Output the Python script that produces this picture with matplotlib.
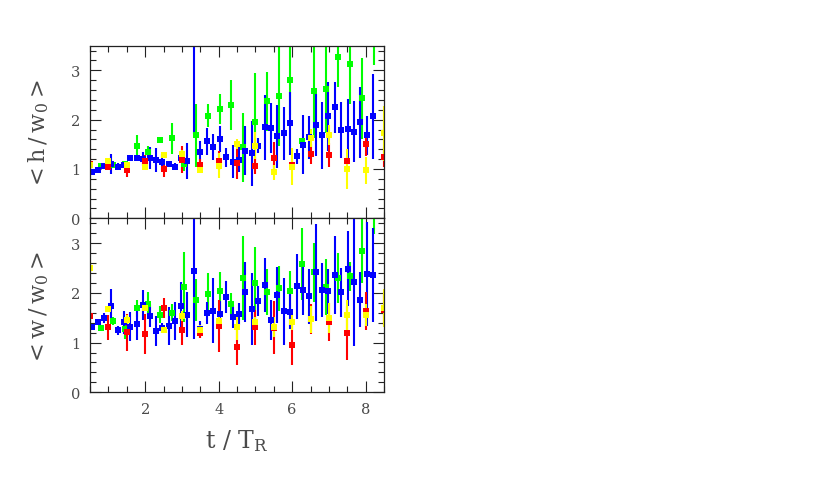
import matplotlib
matplotlib.use("Agg")
import matplotlib.pyplot as plt
from matplotlib.ticker import MultipleLocator

plt.rcParams['font.family'] = ['DejaVu Serif']
plt.rcParams['mathtext.fontset'] = 'dejavuserif'

# ---- data ----
x_blue = [0.55, 0.73, 0.89, 1.07, 1.25, 1.43, 1.59, 1.77, 1.94, 2.12,
          2.29, 2.47, 2.64, 2.82, 2.98, 3.15, 3.33, 3.50, 3.68, 3.86,
          4.03, 4.21, 4.38, 4.55, 4.73, 4.91, 5.08, 5.25, 5.43, 5.59,
          5.77, 5.94, 6.12, 6.29, 6.46, 6.64, 6.82, 6.98, 7.16, 7.34,
          7.51, 7.68, 7.86, 8.05, 8.21]
h_blue = [0.93, 0.98, 1.07, 1.10, 1.05, 1.08, 1.22, 1.23, 1.20, 1.22,
          1.18, 1.14, 1.10, 1.05, 1.22, 1.16, 3.80, 1.34, 1.56, 1.44,
          1.61, 1.24, 1.15, 1.19, 1.37, 1.32, 1.47, 1.85, 1.83, 1.66,
          1.72, 1.93, 1.26, 1.49, 1.64, 1.89, 1.68, 2.07, 2.25, 1.79,
          1.81, 1.76, 1.95, 1.68, 2.07]
h_blue_err = [0.05, 0.05, 0.05, 0.20, 0.07, 0.05, 0.04, 0.05, 0.14, 0.22,
              0.24, 0.17, 0.05, 0.07, 0.10, 0.37, 2.10, 0.22, 0.28, 0.26,
              0.27, 0.19, 0.34, 0.25, 0.50, 0.66, 0.15, 0.66, 0.50, 0.64,
              0.54, 0.64, 0.15, 0.60, 0.44, 0.63, 0.68, 0.70, 0.52, 0.57,
              0.60, 0.62, 0.72, 0.40, 0.86]
w_blue = [1.31, 1.41, 1.49, 1.74, 1.25, 1.41, 1.32, 1.37, 1.76, 1.54,
          1.24, 1.30, 1.33, 1.43, 1.74, 1.56, 2.45, 1.27, 1.60, 1.64,
          1.58, 1.92, 1.52, 1.58, 2.02, 1.68, 1.83, 2.16, 1.45, 1.96,
          1.63, 1.62, 2.13, 2.06, 1.93, 2.41, 2.06, 2.03, 2.36, 2.01,
          2.49, 2.21, 1.86, 2.38, 2.36]
w_blue_err = [0.05, 0.05, 0.10, 0.33, 0.09, 0.23, 0.29, 0.32, 0.30, 0.23,
              0.30, 0.10, 0.38, 0.38, 0.48, 0.45, 1.37, 0.17, 0.22, 0.65,
              0.25, 0.32, 0.23, 0.22, 0.60, 0.72, 0.30, 0.54, 0.40, 0.57,
              0.67, 0.35, 0.65, 0.50, 0.55, 0.97, 0.55, 0.45, 0.79, 0.49,
              0.75, 1.27, 0.55, 1.04, 0.94]

x_green = [0.80, 1.12, 1.45, 1.77, 2.09, 2.41, 2.73, 3.06, 3.38, 3.70,
           4.03, 4.35, 4.66, 4.99, 5.32, 5.64, 5.95, 6.27, 6.59, 6.92,
           7.24, 7.57, 7.91, 8.23]
h_green = [1.07, 1.09, 1.10, 1.46, 1.34, 1.59, 1.62, 1.10, 1.68, 2.08,
           2.22, 2.30, 1.44, 1.95, 2.37, 2.47, 2.81, 1.56, 2.59, 2.62,
           3.27, 3.12, 2.43, 3.90]
h_green_err = [0.04, 0.04, 0.04, 0.22, 0.12, 0.05, 0.32, 0.15, 0.64, 0.23,
               0.31, 0.50, 0.70, 1.00, 0.60, 1.00, 0.72, 0.05, 0.96, 0.90,
               0.60, 0.80, 0.82, 0.80]
w_green = [1.29, 1.43, 1.27, 1.69, 1.78, 1.56, 1.60, 2.12, 1.86, 1.98,
           2.04, 1.78, 2.30, 2.20, 2.02, 2.09, 2.03, 2.58, 2.41, 2.12,
           2.30, 2.33, 2.85, 3.80]
w_green_err = [0.05, 0.08, 0.20, 0.17, 0.23, 0.17, 0.17, 0.70, 0.42, 0.42,
               0.37, 0.22, 0.85, 0.72, 0.47, 0.45, 0.42, 0.72, 0.60, 0.57,
               0.50, 0.30, 0.65, 0.62]

x_ry = [0.5, 1.0, 1.5, 2.0, 2.5, 3.0, 3.5, 4.0, 4.5, 5.0, 5.5, 6.0, 6.5,
        7.0, 7.5, 8.0, 8.5]
h_red = [1.10, 1.05, 0.98, 1.17, 1.00, 1.19, 1.08, 1.17, 1.12, 1.07, 1.22,
         1.08, 1.30, 1.28, 1.16, 1.51, 1.24]
h_red_err = [0.13, 0.08, 0.15, 0.12, 0.17, 0.28, 0.12, 0.20, 0.32, 0.18, 0.32,
             0.10, 0.20, 0.24, 0.08, 0.25, 0.20]
h_yellow = [1.08, 1.17, 1.08, 1.05, 1.29, 1.30, 0.97, 1.07, 1.51, 1.47, 0.93,
            1.05, 1.63, 1.69, 1.00, 0.97, 1.72]
h_yellow_err = [0.05, 0.05, 0.05, 0.05, 0.05, 0.08, 0.05, 0.25, 0.10, 0.27, 0.15,
                0.37, 0.18, 0.20, 0.40, 0.28, 0.55]
w_red = [1.54, 1.31, 1.21, 1.17, 1.70, 1.26, 1.20, 1.34, 0.92, 1.31, 1.30,
         0.95, 1.47, 1.41, 1.19, 1.64, 1.65]
w_red_err = [0.17, 0.25, 0.37, 0.40, 0.20, 0.30, 0.10, 0.52, 0.38, 0.35, 0.53,
             0.40, 0.30, 0.38, 0.55, 0.38, 0.30]
w_yellow = [2.50, 1.68, 1.45, 1.70, 1.26, 1.54, 1.26, 1.44, 1.31, 1.41, 1.32,
            1.42, 1.47, 1.49, 1.56, 1.56, 1.69]
w_yellow_err = [0.12, 0.05, 0.10, 0.05, 0.05, 0.10, 0.10, 0.10, 0.25, 0.10, 0.20,
                0.17, 0.27, 0.30, 0.30, 0.22, 0.38]

x_ticks = [2, 4, 6, 8]
y_ticks = [0, 1, 2, 3]

GREEN = '#00ff00'
BLUE = '#0000ff'
RED = '#ff0000'
YELLOW = '#ffff00'
TXT = '#4a4a4a'

fig = plt.figure(figsize=(8.30, 4.89), dpi=100)
L, W = 90 / 830, 294 / 830
ax_top = fig.add_axes([L, 269.7 / 489, W, 172.6 / 489])
ax_bot = fig.add_axes([L, 95.7 / 489, W, 174.0 / 489])


def draw(ax, series):
    for x, y, e, c in series:
        ax.errorbar(x, y, yerr=e, fmt='s', color=c, ms=4.4, mew=0,
                    elinewidth=1.5, capsize=0, clip_on=True)


draw(ax_top, [(x_green, h_green, h_green_err, GREEN),
              (x_blue, h_blue, h_blue_err, BLUE),
              (x_ry, h_red, h_red_err, RED),
              (x_ry, h_yellow, h_yellow_err, YELLOW)])
draw(ax_bot, [(x_green, w_green, w_green_err, GREEN),
              (x_blue, w_blue, w_blue_err, BLUE),
              (x_ry, w_red, w_red_err, RED),
              (x_ry, w_yellow, w_yellow_err, YELLOW)])

for ax in (ax_top, ax_bot):
    ax.set_xlim(0.5, 8.5)
    ax.set_ylim(0, 3.5)
    ax.set_xticks(x_ticks)
    ax.set_yticks(y_ticks)
    ax.xaxis.set_minor_locator(MultipleLocator(0.5))
    ax.yaxis.set_minor_locator(MultipleLocator(0.2))
    ax.tick_params(which='both', direction='in', top=True, right=True,
                   color='#222222', width=0.8, labelsize=10.5, labelcolor=TXT)
    ax.tick_params(which='major', length=8, pad=7)
    ax.tick_params(which='minor', length=4.5)
    for s in ax.spines.values():
        s.set_linewidth(0.9)
        s.set_color('#222222')

ax_top.tick_params(labelbottom=False)

ts = '\u2009'
ax_top.set_ylabel('<' + ts + 'h' + ts + '/' + ts + 'w$_0$' + ts + '>',
                  fontsize=16, color=TXT, labelpad=14)
ax_bot.set_ylabel('<' + ts + 'w' + ts + '/' + ts + 'w$_0$' + ts + '>',
                  fontsize=16, color=TXT, labelpad=14)
ax_bot.set_xlabel(r't / T$_\mathrm{R}$', fontsize=17, color=TXT, labelpad=8)

fig.savefig('out.png', dpi=100)
